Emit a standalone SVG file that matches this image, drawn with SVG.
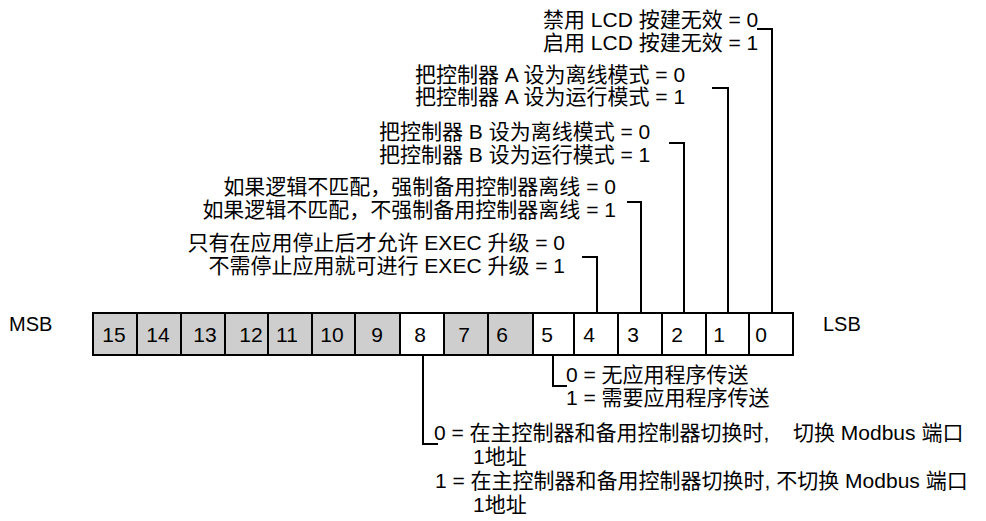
<svg xmlns="http://www.w3.org/2000/svg" width="986" height="521" viewBox="0 0 986 521">
<style>
text{font-family:"Liberation Sans","Noto Sans CJK SC",sans-serif;fill:#000}
.lbl{font-size:21px}
.num{font-size:21px;text-anchor:middle}
.side{font-size:20px}
.g{fill:#cecece;stroke:#000;stroke-width:2}
.w{fill:#ffffff;stroke:#000;stroke-width:2}
.c{fill:none;stroke:#000;stroke-width:2}
.e{text-anchor:end}
</style>
<rect width="986" height="521" fill="#fff"/>
<g id="msb"><text class="side" x="9" y="331">MSB</text></g>
<g id="lsb"><text class="side" x="823" y="331">LSB</text></g>
<g id="bit15"><rect class="g" x="93" y="313" width="44" height="42"/><text class="num" x="114" y="342">15</text></g>
<g id="bit14"><rect class="g" x="137" y="313" width="44" height="42"/><text class="num" x="158" y="342">14</text></g>
<g id="bit13"><rect class="g" x="181" y="313" width="44" height="42"/><text class="num" x="205" y="342">13</text></g>
<g id="bit12"><rect class="g" x="225" y="313" width="43" height="42"/><text class="num" x="251" y="342">12</text></g>
<g id="bit11"><rect class="g" x="268" y="313" width="44" height="42"/><text class="num" x="287" y="342">11</text></g>
<g id="bit10"><rect class="g" x="312" y="313" width="43" height="42"/><text class="num" x="332" y="342">10</text></g>
<g id="bit9"><rect class="g" x="355" y="313" width="45" height="42"/><text class="num" x="377" y="342">9</text></g>
<g id="bit8"><rect class="w" x="400" y="313" width="44" height="42"/><text class="num" x="420" y="342">8</text></g>
<g id="bit7"><rect class="g" x="444" y="313" width="44" height="42"/><text class="num" x="464" y="342">7</text></g>
<g id="bit6"><rect class="g" x="488" y="313" width="45" height="42"/><text class="num" x="502" y="342">6</text></g>
<g id="bit5"><rect class="w" x="533" y="313" width="41" height="42"/><text class="num" x="547" y="342">5</text></g>
<g id="bit4"><rect class="w" x="574" y="313" width="44" height="42"/><text class="num" x="589" y="342">4</text></g>
<g id="bit3"><rect class="w" x="618" y="313" width="44" height="42"/><text class="num" x="633" y="342">3</text></g>
<g id="bit2"><rect class="w" x="662" y="313" width="44" height="42"/><text class="num" x="677" y="342">2</text></g>
<g id="bit1"><rect class="w" x="706" y="313" width="43" height="42"/><text class="num" x="719" y="342">1</text></g>
<g id="bit0"><rect class="w" x="749" y="313" width="44" height="42"/><text class="num" x="761" y="342">0</text></g>
<g id="connectors">
<polyline class="c" points="757,29 772,29 772,313"/>
<polyline class="c" points="712,88 728,88 728,313"/>
<polyline class="c" points="669,143 684,143 684,313"/>
<polyline class="c" points="627,202 641,202 641,313"/>
<polyline class="c" points="582,257 597,257 597,313"/>
<polyline class="c" points="553,355 553,386 567,386"/>
<polyline class="c" points="423,355 423,444 438,444"/>
</g>
<g id="label-bit0"><text class="lbl" x="543" y="27">禁用 LCD 按建无效 = 0</text><text class="lbl" x="543" y="50">启用 LCD 按建无效 = 1</text></g>
<g id="label-bit1"><text class="lbl" x="415" y="82">把控制器 A 设为离线模式 = 0</text><text class="lbl" x="415" y="104">把控制器 A 设为运行模式 = 1</text></g>
<g id="label-bit2"><text class="lbl" x="379" y="139">把控制器 B 设为离线模式 = 0</text><text class="lbl" x="379" y="162">把控制器 B 设为运行模式 = 1</text></g>
<g id="label-bit3"><text class="lbl e" x="616" y="194">如果逻辑不匹配，强制备用控制器离线 = 0</text><text class="lbl e" x="616" y="217">如果逻辑不匹配，不强制备用控制器离线 = 1</text></g>
<g id="label-bit4"><text class="lbl e" x="565" y="250">只有在应用停止后才允许 EXEC 升级 = 0</text><text class="lbl e" x="565" y="273">不需停止应用就可进行 EXEC 升级 = 1</text></g>
<g id="label-bit5"><text class="lbl" x="566" y="382">0 = 无应用程序传送</text><text class="lbl" x="566" y="405">1 = 需要应用程序传送</text></g>
<g id="label-bit8"><text class="lbl" x="434" y="440">0 = 在主控制器和备用控制器切换时, <tspan x="793">切换 Modbus 端口</tspan></text><text class="lbl" x="473" y="464">1地址</text><text class="lbl" x="435" y="488">1 = 在主控制器和备用控制器切换时, 不切换 Modbus 端口</text><text class="lbl" x="473" y="512">1地址</text></g>
</svg>
